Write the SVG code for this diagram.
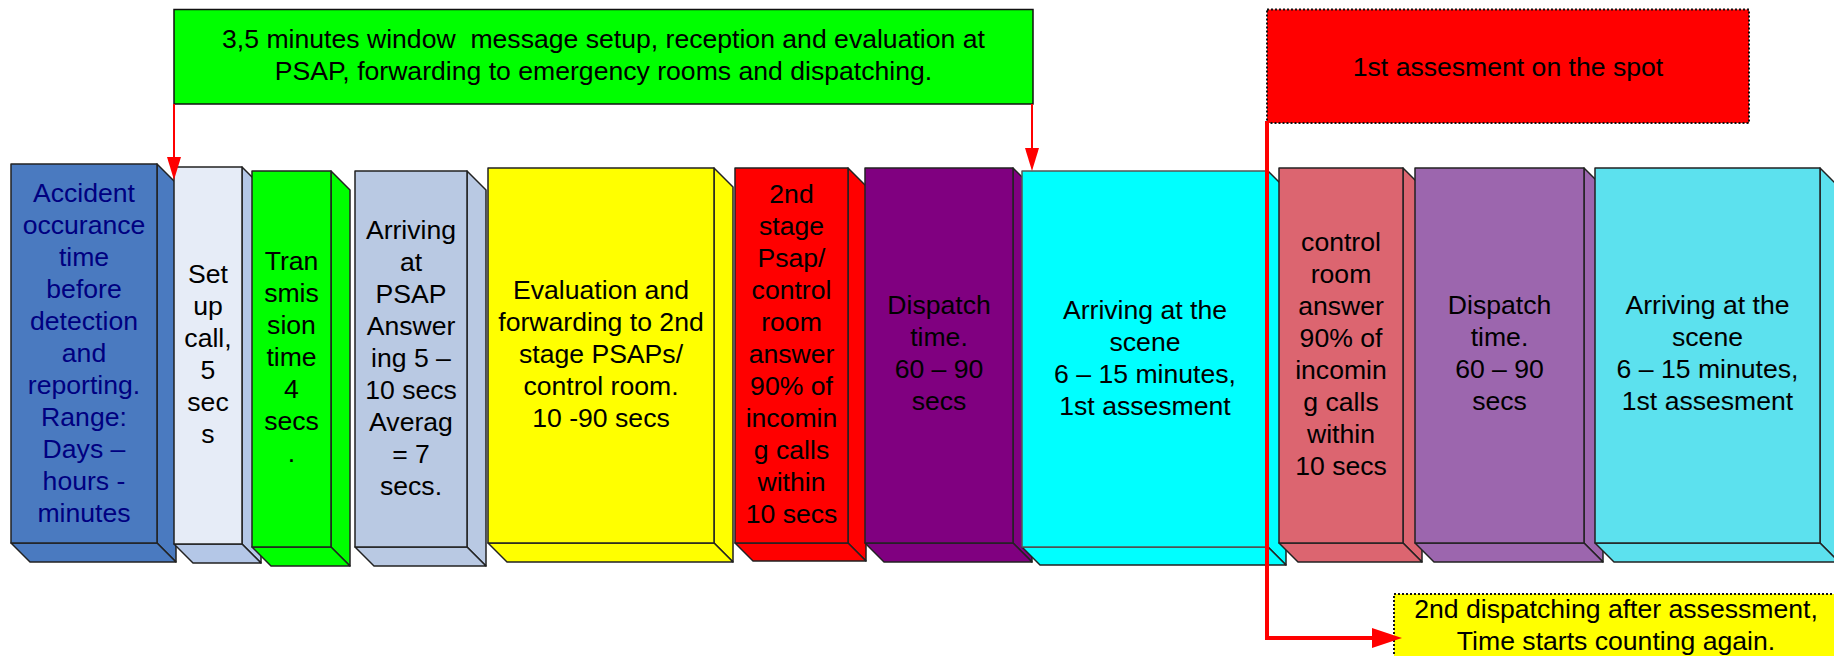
<svg xmlns="http://www.w3.org/2000/svg" width="1834" height="656" viewBox="0 0 1834 656">
<style>
.f{stroke:#222;stroke-width:1.5;stroke-linejoin:round}
.t{font-family:"Liberation Sans",Arial,sans-serif;font-size:26.6px;text-anchor:middle;fill:#000}
.dk{fill:#000080}
.ln{fill:none;stroke:#FF0000}
.dot{stroke:#111;stroke-width:2;stroke-dasharray:2 2}
</style>
<defs>
<marker id="ah" markerUnits="userSpaceOnUse" viewBox="0 0 23 14" markerWidth="23" markerHeight="14" refX="0" refY="7" orient="auto">
<path d="M0,0 L23,7 L0,14 z" fill="#FF0000"/>
</marker>
<marker id="ahb" markerUnits="userSpaceOnUse" viewBox="0 0 30 20" markerWidth="30" markerHeight="20" refX="0" refY="10" orient="auto">
<path d="M0,0 L30,10 L0,20 z" fill="#FF0000"/>
</marker>
</defs>
<rect width="1834" height="656" fill="#FFFFFF"/>

<g id="box1">
<polygon class="f" fill="#4A7AC0" points="157,164 176,183 176,562 157,543"/>
<polygon class="f" fill="#4A7AC0" points="11,543 30,562 176,562 157,543"/>
<rect class="f" fill="#4A7AC0" x="11" y="164" width="146" height="379"/>
<text class="t dk" x="84" y="201.5"><tspan x="84">Accident</tspan><tspan x="84" dy="32">occurance</tspan><tspan x="84" dy="32">time</tspan><tspan x="84" dy="32">before</tspan><tspan x="84" dy="32">detection</tspan><tspan x="84" dy="32">and</tspan><tspan x="84" dy="32">reporting.</tspan><tspan x="84" dy="32">Range:</tspan><tspan x="84" dy="32">Days –</tspan><tspan x="84" dy="32">hours -</tspan><tspan x="84" dy="32">minutes</tspan></text>
</g>

<g id="box2">
<polygon class="f" fill="#B4C7E7" points="242,167 261,186 261,563 242,544"/>
<polygon class="f" fill="#B4C7E7" points="174,544 193,563 261,563 242,544"/>
<rect class="f" fill="#E6ECF7" x="174" y="167" width="68" height="377"/>
<text class="t" x="208" y="282.5"><tspan x="208">Set</tspan><tspan x="208" dy="32">up</tspan><tspan x="208" dy="32">call,</tspan><tspan x="208" dy="32">5</tspan><tspan x="208" dy="32">sec</tspan><tspan x="208" dy="32">s</tspan></text>
</g>

<g id="box3">
<polygon class="f" fill="#00FF00" points="331,171 350,190 350,566 331,547"/>
<polygon class="f" fill="#00FF00" points="252,547 271,566 350,566 331,547"/>
<rect class="f" fill="#00FF00" x="252" y="171" width="79" height="376"/>
<text class="t" x="291.5" y="270"><tspan x="291.5">Tran</tspan><tspan x="291.5" dy="32">smis</tspan><tspan x="291.5" dy="32">sion</tspan><tspan x="291.5" dy="32">time</tspan><tspan x="291.5" dy="32">4</tspan><tspan x="291.5" dy="32">secs</tspan><tspan x="291.5" dy="32">.</tspan></text>
</g>

<g id="box4">
<polygon class="f" fill="#B9C9E3" points="467,171 486,190 486,566 467,547"/>
<polygon class="f" fill="#B9C9E3" points="355,547 374,566 486,566 467,547"/>
<rect class="f" fill="#B9C9E3" x="355" y="171" width="112" height="376"/>
<text class="t" x="411" y="238.5"><tspan x="411">Arriving</tspan><tspan x="411" dy="32">at</tspan><tspan x="411" dy="32">PSAP</tspan><tspan x="411" dy="32">Answer</tspan><tspan x="411" dy="32">ing 5 –</tspan><tspan x="411" dy="32">10 secs</tspan><tspan x="411" dy="32">Averag</tspan><tspan x="411" dy="32">= 7</tspan><tspan x="411" dy="32">secs.</tspan></text>
</g>

<g id="box5">
<polygon class="f" fill="#FFFF00" points="714,168 733,187 733,562 714,543"/>
<polygon class="f" fill="#FFFF00" points="488,543 507,562 733,562 714,543"/>
<rect class="f" fill="#FFFF00" x="488" y="168" width="226" height="375"/>
<text class="t" x="601" y="298.5"><tspan x="601">Evaluation and</tspan><tspan x="601" dy="32">forwarding to 2nd</tspan><tspan x="601" dy="32">stage PSAPs/</tspan><tspan x="601" dy="32">control room.</tspan><tspan x="601" dy="32">10 -90 secs</tspan></text>
</g>

<g id="box6">
<polygon class="f" fill="#FF0000" points="848,168 866,186 866,561 848,543"/>
<polygon class="f" fill="#FF0000" points="735,543 753,561 866,561 848,543"/>
<rect class="f" fill="#FF0000" x="735" y="168" width="113" height="375"/>
<text class="t" x="791.5" y="203"><tspan x="791.5">2nd</tspan><tspan x="791.5" dy="32">stage</tspan><tspan x="791.5" dy="32">Psap/</tspan><tspan x="791.5" dy="32">control</tspan><tspan x="791.5" dy="32">room</tspan><tspan x="791.5" dy="32">answer</tspan><tspan x="791.5" dy="32">90% of</tspan><tspan x="791.5" dy="32">incomin</tspan><tspan x="791.5" dy="32">g calls</tspan><tspan x="791.5" dy="32">within</tspan><tspan x="791.5" dy="32">10 secs</tspan></text>
</g>

<g id="box7">
<polygon class="f" fill="#800080" points="1013,168 1032,187 1032,562 1013,543"/>
<polygon class="f" fill="#800080" points="865,543 884,562 1032,562 1013,543"/>
<rect class="f" fill="#800080" x="865" y="168" width="148" height="375"/>
<text class="t" x="939" y="314"><tspan x="939">Dispatch</tspan><tspan x="939" dy="32">time.</tspan><tspan x="939" dy="32">60 – 90</tspan><tspan x="939" dy="32">secs</tspan></text>
</g>

<g id="box8">
<polygon class="f" fill="#00FFFF" points="1268,171 1286,189 1286,565 1268,547" stroke="#444"/>
<polygon class="f" fill="#00FFFF" points="1022,547 1040,565 1286,565 1268,547"/>
<rect class="f" fill="#00FFFF" x="1022" y="171" width="246" height="376" style="stroke:#555"/>
<text class="t" x="1145" y="318.5"><tspan x="1145">Arriving at the</tspan><tspan x="1145" dy="32">scene</tspan><tspan x="1145" dy="32">6 – 15 minutes,</tspan><tspan x="1145" dy="32">1st assesment</tspan></text>
</g>

<g id="box9">
<polygon class="f" fill="#DC6570" points="1403,168 1422,187 1422,562 1403,543"/>
<polygon class="f" fill="#DC6570" points="1279,543 1298,562 1422,562 1403,543"/>
<rect class="f" fill="#DC6570" x="1279" y="168" width="124" height="375"/>
<text class="t" x="1341" y="251"><tspan x="1341">control</tspan><tspan x="1341" dy="32">room</tspan><tspan x="1341" dy="32">answer</tspan><tspan x="1341" dy="32">90% of</tspan><tspan x="1341" dy="32">incomin</tspan><tspan x="1341" dy="32">g calls</tspan><tspan x="1341" dy="32">within</tspan><tspan x="1341" dy="32">10 secs</tspan></text>
</g>

<g id="box10">
<polygon class="f" fill="#9C66AE" points="1584,168 1603,187 1603,562 1584,543"/>
<polygon class="f" fill="#9C66AE" points="1415,543 1434,562 1603,562 1584,543"/>
<rect class="f" fill="#9C66AE" x="1415" y="168" width="169" height="375"/>
<text class="t" x="1499.5" y="314"><tspan x="1499.5">Dispatch</tspan><tspan x="1499.5" dy="32">time.</tspan><tspan x="1499.5" dy="32">60 – 90</tspan><tspan x="1499.5" dy="32">secs</tspan></text>
</g>

<g id="box11">
<polygon class="f" fill="#5CE1EE" points="1820,168 1839,187 1839,562 1820,543"/>
<polygon class="f" fill="#5CE1EE" points="1595,543 1614,562 1839,562 1820,543"/>
<rect class="f" fill="#5CE1EE" x="1595" y="168" width="225" height="375"/>
<text class="t" x="1707.5" y="314"><tspan x="1707.5">Arriving at the</tspan><tspan x="1707.5" dy="32">scene</tspan><tspan x="1707.5" dy="32">6 – 15 minutes,</tspan><tspan x="1707.5" dy="32">1st assesment</tspan></text>
</g>

<g id="window-label">
<rect x="174" y="9.5" width="859" height="94.5" fill="#00FF00" stroke="#111" stroke-width="1.5"/>
<text class="t" x="603.5" y="48"><tspan x="603.5">3,5 minutes window&#160; message setup, reception and evaluation at</tspan><tspan x="603.5" dy="32">PSAP, forwarding to emergency rooms and dispatching.</tspan></text>
</g>

<g id="assessment-label">
<rect class="dot" x="1267" y="9.5" width="482" height="113.5" fill="#FF0000"/>
<text class="t" x="1508" y="75.5">1st assesment on the spot</text>
</g>

<g id="dispatch-label">
<rect class="dot" x="1394" y="594" width="444" height="80" fill="#FFFF00"/>
<text class="t" x="1616" y="618"><tspan x="1616">2nd dispatching after assessment,</tspan><tspan x="1616" dy="32">Time starts counting again.</tspan></text>
</g>

<g id="connectors">
<path class="ln" stroke-width="2" d="M174,104 V157" marker-end="url(#ah)"/>
<path class="ln" stroke-width="2" d="M1032,104 V148" marker-end="url(#ah)"/>
<path class="ln" stroke-width="4" d="M1267,121 V638 H1372" marker-end="url(#ahb)"/>
</g>
</svg>
